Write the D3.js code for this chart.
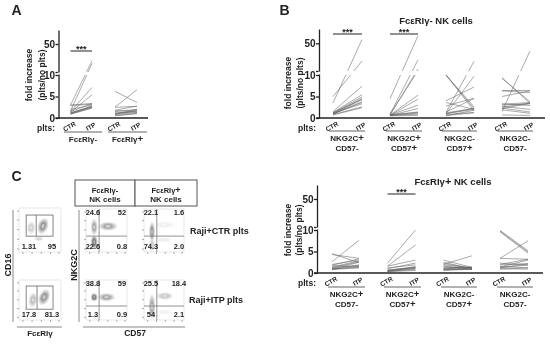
<!DOCTYPE html>
<html>
<head>
<meta charset="utf-8">
<script src="https://cdn.jsdelivr.net/npm/d3@7"></script>
<style>
html,body{margin:0;padding:0;background:#fff}
svg{display:block;filter:blur(0.35px)}
text{font-family:"Liberation Sans",Arial,sans-serif;font-weight:bold;fill:#222}
</style>
</head>
<body>
<div id="chart"></div>
<script>
'use strict';
// fold increase values, each pair is [CTR, ITP]
const conditions = ["CTR", "ITP"];
const tickValues = [0, 5, 10, 10.01, 50];
const tickLabels = {0: "0", 5: "5", 10: "10", 50: "50"};

const a_neg = [[3,26],[1.6,22],[1.5,7.1],[1.3,5.4],[3,3.4],[2.9,3.2],[1.5,3.3],[2,3],[1,2.8],[1.2,2.7],[1.2,2.5],[0.9,2.4],[1.1,2.6],[0.9,2.3]];
const a_pos = [[6.2,3.6],[2.5,6.6],[2.5,2.7],[1.8,2.8],[1.5,2],[1,2],[1.7,1.6],[1,1.6],[0.8,1.3],[0.6,1.1],[0.5,1],[1.2,1.4],[0.9,1.8]];

const b_1 = [[5,24.5],[3.5,55],[1.5,7.4],[1.3,5.4],[1.2,4.9],[1,4.5],[1.2,4.4],[0.9,4.3],[1.1,3.3],[0.8,2.6],[0.7,2.4],[0.9,3.8],[1,3.6]];
const b_2 = [[4.5,60],[0.9,26],[0.7,13],[0.8,10.5],[0.7,5.3],[0.6,4.4],[0.7,3],[0.6,2.2],[0.7,1.4],[0.7,1.3],[0.6,1.1],[0.6,0.9],[0.5,0.6]];
const b_3 = [[10,1.7],[10,2.6],[10,2.2],[1.3,24],[1,9.7],[4,7.2],[3.6,2],[1.4,4.5],[2.8,4.6],[0.5,1.8],[0.6,1.2],[1.2,2.2],[1,2.3],[0.8,1.3],[1,2]];
const b_4 = [[1.5,39],[9.4,3.4],[9.2,3.8],[6.4,6.4],[6.3,5.9],[5,6.3],[3.2,3.6],[3,3.3],[2.5,3.5],[2.2,3.4],[2.7,2],[2.3,1.4],[0.7,0.6],[3.3,2.9],[1.9,1.1]];

const c_1 = [[2.6,7.6],[4.5,2.4],[4.3,3.4],[2,3],[1.8,3.3],[1.4,2.8],[1.2,2.6],[0.9,2.5],[0.8,1.9],[0.9,1.5],[1.2,1.8],[1.7,1.5],[0.8,1.2],[1,1.3]];
const c_2 = [[2.3,10],[1.6,6.5],[1.6,3],[1,2.3],[1.2,1.9],[0.6,1.5],[0.6,1.3],[0.5,1.1],[0.4,1],[0.4,0.8],[0.3,0.6],[0.4,1.4],[0.7,1.2]];
const c_3 = [[3,1.3],[2.5,1],[2,4],[2.2,1.1],[1.9,1.2],[1.5,1],[1.1,1.3],[1,1.2],[0.9,1.1],[0.8,0.8],[0.7,1],[0.6,0.9],[1.6,0.9],[1.2,1.4]];
const c_4 = [[9.9,5.2],[9.7,4.9],[9.6,4.6],[3.4,7.5],[3.4,3.2],[2,3.2],[1.4,3],[1.9,2.2],[1.2,1.9],[1.3,2.1],[2.3,1.8],[1.5,1.2],[1,0.9],[0.9,1.2]];

// flow plots: percentages [tl, tr, bl, br] and density blobs [x, y, rx, ry, angle, strength]
const flow_gate_ctr = ["1.31", "95"];
const flow_gate_itp = ["17.8", "81.3"];
const flow_neg_ctr = ["24.6", "52", "22.6", "0.8"];
const flow_pos_ctr = ["22.1", "1.6", "74.3", "2.0"];
const flow_neg_itp = ["38.8", "59", "1.3", "0.9"];
const flow_pos_itp = ["25.5", "18.4", "54", "2.1"];
const blobs_gate_ctr = [[29,55,10,14,0,.3],[47,30,10,5,0,.3],[57,59,12,18,20,.65]];
const blobs_gate_itp = [[33,50,10,18,10,.4],[60,57,12,20,25,.65]];
const blobs_neg_ctr = [[20,58,8,18,0,.55],[54,60,22,10,0,.55],[20,23,8,15,0,.85]];
const blobs_pos_ctr = [[20,16,7,14,0,.35],[20,47,7,22,0,.65],[52,63,25,8,0,.1],[50,28,20,6,0,.12]];
const blobs_neg_itp = [[20,57,8,10,0,.85],[50,57,20,10,0,.55]];
const blobs_pos_itp = [[20,33,8,30,0,.55],[52,60,20,9,0,.35],[50,20,18,6,0,.1]];

const width = 550, height = 346;
const svg = d3.select("#chart").append("svg")
    .attr("width", width)
    .attr("height", height);

const defs = svg.append("defs");
defs.append("filter").attr("id", "soft")
    .attr("x", "-30%").attr("y", "-30%").attr("width", "160%").attr("height", "160%")
  .append("feGaussianBlur").attr("stdDeviation", 0.6);

function foldScale(bottom, ten, tenTop, fifty, top){
    return d3.scaleLinear()
        .domain([0, 10, 10.01, 50, 69])
        .range([bottom, ten, tenTop, fifty, top]);
}

function yAxis(y, xpos){
    const g = svg.append("g")
        .attr("transform", "translate(" + xpos + ",0)")
        .call(d3.axisLeft(y).tickValues(tickValues).tickSize(3).tickPadding(0.5).tickSizeOuter(0)
            .tickFormat(d => tickLabels[d] || ""));
    g.selectAll("path,line").attr("stroke", "#222").attr("stroke-width", 1.3);
    g.selectAll("text").attr("font-size", 10)
        .style("font-family", '"Liberation Sans",Arial,sans-serif').style("font-weight", "bold");
    // the break in the axis
    svg.append("rect")
        .attr("x", xpos - 1).attr("width", 2.5)
        .attr("y", y(10.01) + 0.6).attr("height", y(10) - y(10.01) - 1.2)
        .attr("fill", "#fff");
}

function pairLines(values, x, y){
    const line = d3.line().x((d, i) => x(conditions[i])).y(d => y(d));
    svg.append("g").selectAll("path")
        .data(values)
        .enter()
        .append("path")
        .attr("d", d => line(d))
        .attr("fill", "none")
        .attr("stroke", "#666")
        .attr("stroke-opacity", 0.7)
        .attr("stroke-width", 0.8);
}

function label(txt, x, y, size, sign, anchor){
    const t = svg.append("text")
        .attr("x", x).attr("y", y)
        .attr("font-size", size)
        .attr("text-anchor", anchor || "middle")
        .text(txt);
    if(sign){
        t.append("tspan").attr("font-size", sign === "+" ? size + 1.5 : size).text(sign);
    }
    return t;
}

function hline(x1, x2, y, color, w){
    svg.append("line")
        .attr("x1", x1).attr("x2", x2).attr("y1", y).attr("y2", y)
        .attr("stroke", color || "#222").attr("stroke-width", w || 1.2);
}

function yTitle(x1, x2, cy){
    label("fold increase", 0, 0, 8.5).attr("transform", "translate(" + (x1 + 3) + "," + cy + ") rotate(-90)");
    label("(plts/no plts)", 0, 0, 8.5).attr("transform", "translate(" + (x2 + 3) + "," + cy + ") rotate(-90)");
}

function ctrItp(x, yText){
    conditions.forEach(c => {
        label(c, 0, 0, 6.5).attr("transform", "translate(" + x(c) + "," + yText + ") rotate(-30)");
    });
}

function sigBar(x1, x2, y){
    hline(x1, x2, y, "#222", 1);
    label("***", (x1 + x2) / 2, y + 0.5, 9);
}

// broken y axis panel; groups hold values and x positions of the CTR and ITP columns
function brokenPanel(opt){
    const y = foldScale(opt.bottom, opt.ten, opt.tenTop, opt.fifty, opt.top);
    opt.groups.forEach(g => {
        const x = d3.scalePoint().domain(conditions).range([g.x0, g.x1]);
        pairLines(g.values, x, y);
        ctrItp(x, opt.bottom + 10.5);
        hline(g.bar0, g.bar1, opt.bar, "#666", 1.2);
        if(g.name2){
            label(g.name[0], (g.bar0 + g.bar1) / 2, opt.bar + 9.5, 8, g.name[1]);
            label(g.name2[0], (g.bar0 + g.bar1) / 2, opt.bar + 19.5, 8, g.name2[1]);
        } else {
            label(g.name[0], (g.bar0 + g.bar1) / 2, opt.bar + 10, 8, g.name[1]);
        }
        if(g.sig) sigBar(g.x0, g.x1, opt.sigY);
    });
    // white gap where the lines cross the axis break
    svg.append("rect")
        .attr("x", opt.axisX + 2).attr("width", opt.right - opt.axisX)
        .attr("y", y(10.01)).attr("height", y(10) - y(10.01))
        .attr("fill", "#fff");
    yAxis(y, opt.axisX);
    hline(opt.axisX - 3, opt.right, opt.bottom, "#222", 1.3);
    label("plts:", opt.pltsX, opt.bottom + 13, 8.5);
}

brokenPanel({axisX: 58.5, right: 148, bottom: 118, ten: 75, tenTop: 72, fifty: 44, top: 30,
    bar: 132, sigY: 51, pltsX: 46,
    groups: [
        {values: a_neg, x0: 70.5, x1: 92, bar0: 64, bar1: 102, name: ["FcεRIγ", "-"], sig: true},
        {values: a_pos, x0: 115, x1: 137, bar0: 108, bar1: 147, name: ["FcεRIγ", "+"]}
    ]});
yTitle(29, 42, 75);

brokenPanel({axisX: 319, right: 545, bottom: 118, ten: 75, tenTop: 71, fifty: 43.3, top: 29,
    bar: 131, sigY: 34, pltsX: 307,
    groups: [
        {values: b_1, x0: 333, x1: 362, bar0: 329, bar1: 365, name: ["NKG2C", "+"], name2: ["CD57", "-"], sig: true},
        {values: b_2, x0: 390, x1: 418, bar0: 386, bar1: 422, name: ["NKG2C", "+"], name2: ["CD57", "+"], sig: true},
        {values: b_3, x0: 446, x1: 474, bar0: 442, bar1: 477, name: ["NKG2C", "-"], name2: ["CD57", "+"]},
        {values: b_4, x0: 502, x1: 530, bar0: 497, bar1: 533, name: ["NKG2C", "-"], name2: ["CD57", "-"]}
    ]});
yTitle(288, 300, 83);
label("FcεRIγ- NK cells", 436, 24, 9.5);

brokenPanel({axisX: 317, right: 543, bottom: 273, ten: 230, tenTop: 227, fifty: 199, top: 185,
    bar: 287, sigY: 194, pltsX: 307,
    groups: [
        {values: c_1, x0: 332, x1: 359, bar0: 328, bar1: 365, name: ["NKG2C", "+"], name2: ["CD57", "-"]},
        {values: c_2, x0: 387.5, x1: 415.5, bar0: 384, bar1: 421, name: ["NKG2C", "+"], name2: ["CD57", "+"], sig: true},
        {values: c_3, x0: 443.5, x1: 472, bar0: 441, bar1: 477, name: ["NKG2C", "-"], name2: ["CD57", "+"]},
        {values: c_4, x0: 500, x1: 528, bar0: 497, bar1: 533, name: ["NKG2C", "-"], name2: ["CD57", "-"]}
    ]});
yTitle(288, 299, 230);
label("FcεRIγ", 453, 185, 9.5, "+").append("tspan").attr("font-size", 9.5).text(" NK cells");

label("A", 11.5, 15, 14, null, "start");
label("B", 279.5, 15, 14, null, "start");
label("C", 11.5, 181, 14, null, "start");

// ---- panel C, flow cytometry plots ----
const ramp = d3.scaleLinear().domain([0, 1]).range(["#ffffff", "#555555"]);

function flowPlot(opt){
    const x = d3.scaleLinear().domain([0, 100]).range([opt.x0, opt.x1]);
    const y = d3.scaleLinear().domain([0, 100]).range([opt.y1, opt.y0]);
    const g = svg.append("g");
    g.append("rect")
        .attr("x", opt.x0).attr("y", opt.y0)
        .attr("width", opt.x1 - opt.x0).attr("height", opt.y1 - opt.y0)
        .attr("fill", "#fff").attr("stroke", "#ddd").attr("stroke-width", 0.7);
    const blobG = g.append("g").attr("filter", "url(#soft)");
    opt.blobs.forEach(b => {
        // nested contours: pale edge, dark ring, paler middle
        [[1, .35], [.75, .7], [.5, 1], [.28, .4]].forEach(r => {
            blobG.append("ellipse")
                .attr("rx", x(b[2]) - x(0)).attr("ry", y(0) - y(b[3]))
                .attr("transform", "translate(" + x(b[0]) + "," + y(b[1]) + ") rotate(" + b[4] + ") scale(" + r[0] + ")")
                .attr("fill", ramp(r[1] * b[5]))
                .attr("fill-opacity", 0.85);
        });
    });
    const tks = [8, 30, 52, 74, 94];
    const ax = g.append("g").attr("transform", "translate(" + opt.x0 + ",0)")
        .call(d3.axisLeft(y).tickValues(tks).tickSize(2).tickFormat(""));
    const bx = g.append("g").attr("transform", "translate(0," + opt.y1 + ")")
        .call(d3.axisBottom(x).tickValues(tks).tickSize(2).tickFormat(""));
    [ax, bx].forEach(a => {
        a.select("path").remove();
        a.selectAll("line").attr("stroke", "#888").attr("stroke-width", 0.7);
    });
    // gate lines
    if(opt.gate){
        g.append("rect")
            .attr("x", x(opt.gate[0])).attr("y", y(opt.gate[3]))
            .attr("width", x(opt.gate[2]) - x(opt.gate[0]))
            .attr("height", y(opt.gate[1]) - y(opt.gate[3]))
            .attr("fill", "none").attr("stroke", "#666").attr("stroke-width", 0.8);
        g.append("line")
            .attr("x1", x(opt.gate[4])).attr("x2", x(opt.gate[4]))
            .attr("y1", y(opt.gate[3])).attr("y2", y(opt.gate[1]))
            .attr("stroke", "#666").attr("stroke-width", 0.8);
        label(opt.labels[0], opt.x0 + 10, opt.y1 - 3, 7.5);
        label(opt.labels[1], opt.x1 - 9, opt.y1 - 3, 7.5);
    } else {
        g.append("line")
            .attr("x1", x(opt.qx)).attr("x2", x(opt.qx))
            .attr("y1", opt.y0).attr("y2", opt.y1)
            .attr("stroke", "#777").attr("stroke-width", 0.8);
        g.append("line")
            .attr("x1", opt.x0).attr("x2", opt.x1)
            .attr("y1", y(opt.qy)).attr("y2", y(opt.qy))
            .attr("stroke", "#777").attr("stroke-width", 0.8);
        label(opt.labels[0], opt.x0 + 7, opt.y0 + 6, 7.5);
        label(opt.labels[1], opt.x1 - 5, opt.y0 + 6, 7.5);
        label(opt.labels[2], opt.x0 + 7, opt.y1 - 3, 7.5);
        label(opt.labels[3], opt.x1 - 5, opt.y1 - 3, 7.5);
    }
}

flowPlot({x0: 19, x1: 61, y0: 208, y1: 252, blobs: blobs_gate_ctr, labels: flow_gate_ctr, gate: [17, 36, 81, 84, 41]});
flowPlot({x0: 19, x1: 61, y0: 280, y1: 320, blobs: blobs_gate_itp, labels: flow_gate_itp, gate: [17, 27, 81, 85, 43]});
flowPlot({x0: 86, x1: 127, y0: 209, y1: 252, blobs: blobs_neg_ctr, labels: flow_neg_ctr, qx: 32, qy: 37});
flowPlot({x0: 144, x1: 184, y0: 209, y1: 252, blobs: blobs_pos_ctr, labels: flow_pos_ctr, qx: 32, qy: 37});
flowPlot({x0: 86, x1: 127, y0: 280, y1: 320, blobs: blobs_neg_itp, labels: flow_neg_itp, qx: 32, qy: 35});
flowPlot({x0: 144, x1: 184, y0: 280, y1: 320, blobs: blobs_pos_itp, labels: flow_pos_itp, qx: 32, qy: 35});

function vline(x, y1, y2){
    svg.append("line").attr("x1", x).attr("x2", x).attr("y1", y1).attr("y2", y2)
        .attr("stroke", "#888").attr("stroke-width", 1);
}
vline(13, 210, 322);
vline(79, 210, 322);
hline(17, 62, 327, "#888", 1);
hline(83, 185, 327, "#888", 1);

label("CD16", 0, 0, 9).attr("transform", "translate(11,265) rotate(-90)");
label("NKG2C", 0, 0, 9).attr("transform", "translate(77,265) rotate(-90)");
label("FcεRIγ", 40, 336, 8);
label("CD57", 135, 336, 8.5);
label("Raji+CTR plts", 190, 234, 9, null, "start");
label("Raji+ITP plts", 189, 303, 9, null, "start");

// header boxes
[[75, 135], [135, 197]].forEach(b => {
    svg.append("rect")
        .attr("x", b[0]).attr("y", 180)
        .attr("width", b[1] - b[0]).attr("height", 26)
        .attr("fill", "#fff").attr("stroke", "#555").attr("stroke-width", 1);
});
label("FcεRIγ", 105, 193, 7.5, "-");
label("NK cells", 105, 202, 8);
label("FcεRIγ", 166, 193, 7.5, "+");
label("NK cells", 166, 202, 8);
</script>
</body>
</html>
